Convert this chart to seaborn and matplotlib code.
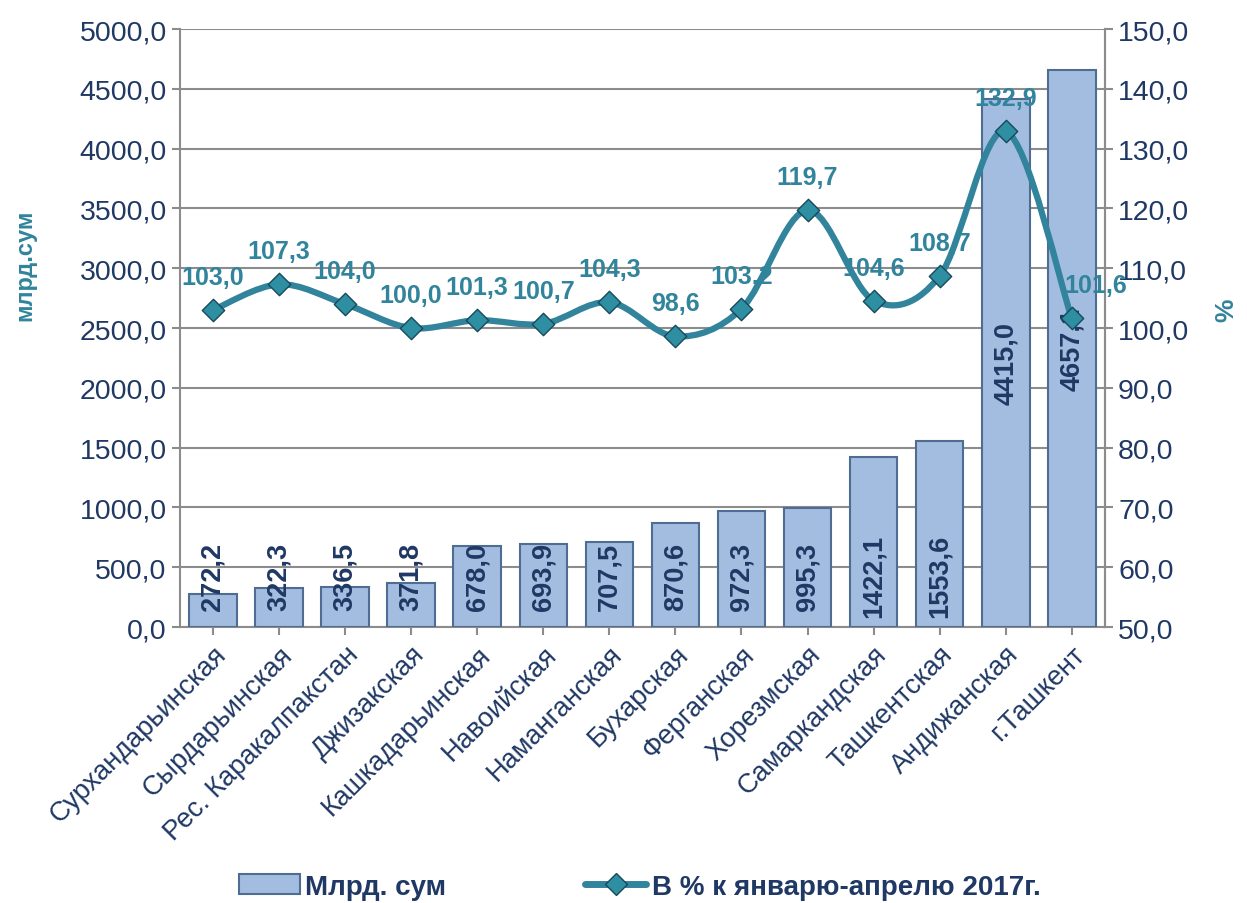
import matplotlib
matplotlib.use("Agg")
import matplotlib.pyplot as plt
import seaborn as sns
import pandas as pd
import numpy as np
from matplotlib.path import Path
from matplotlib.patches import PathPatch
from matplotlib.lines import Line2D
from matplotlib.patches import Patch
from matplotlib import font_manager

categories = ["Сурхандарьинская", "Сырдарьинская", "Рес. Каракалпакстан", "Джизакская",
              "Кашкадарьинская", "Навоийская", "Наманганская", "Бухарская", "Ферганская",
              "Хорезмская", "Самаркандская", "Ташкентская", "Андижанская", "г.Ташкент"]
volume = [272.2, 322.3, 336.5, 371.8, 678.0, 693.9, 707.5, 870.6, 972.3, 995.3, 1422.1, 1553.6, 4415.0, 4657.1]
percent = [103.0, 107.3, 104.0, 100.0, 101.3, 100.7, 104.3, 98.6, 103.2, 119.7, 104.6, 108.7, 132.9, 101.6]
left_ticks = [0, 500, 1000, 1500, 2000, 2500, 3000, 3500, 4000, 4500, 5000]
right_ticks = [50, 60, 70, 80, 90, 100, 110, 120, 130, 140, 150]
bar_legend = "Млрд. сум"
line_legend = "В % к январю-апрелю 2017г."
left_label = "млрд.сум"
right_label = "%"

sns.set_theme(style="white")
plt.rcParams['font.family'] = ['Liberation Sans', 'DejaVu Sans']
names = {f.name for f in font_manager.fontManager.ttflist}
narrow = 'Liberation Sans Narrow' if 'Liberation Sans Narrow' in names else 'Liberation Sans'

NAVY = '#1F3864'
TEAL = '#31849B'
GRID = '#8C8C8C'

def fmt(v):
    return f"{v:.1f}".replace('.', ',')

fig = plt.figure(figsize=(12.47, 9.04), dpi=100)
ax = fig.add_axes([0.1443, 0.3053, 0.7417, 0.6615])

df = pd.DataFrame({"cat": categories, "vol": volume})
sns.barplot(data=df, x="cat", y="vol", ax=ax, color='#A3BDE0', width=0.72,
            edgecolor='#4F6C93', linewidth=1.5, saturation=1, zorder=3)
ax.set_ylim(0, 5000)
ax.set_yticks(left_ticks)
ax.set_yticklabels([fmt(t) for t in left_ticks], color=NAVY, fontsize=20.5)
ax.yaxis.grid(True, color=GRID, linewidth=1.5, zorder=0)
ax.set_axisbelow(True)
ax.set_xlim(-0.5, len(categories) - 0.5)
ax.set_xlabel("")
ax.set_ylabel(left_label, color=TEAL, fontsize=17, fontweight='bold', family=narrow)
ax.yaxis.set_label_coords(-0.155, 0.607)
ax.set_xticks(range(len(categories)))
ax.set_xticklabels(categories, rotation=45, ha='right', rotation_mode='anchor', color=NAVY, fontsize=19.5)
ax.tick_params(axis='x', length=6, color=GRID, width=1.5, pad=4, bottom=True)
ax.tick_params(axis='y', length=6, color=GRID, width=1.5, left=True)
ax.spines['top'].set_visible(False)
for s in ['left', 'bottom', 'right']:
    ax.spines[s].set_color(GRID)
    ax.spines[s].set_linewidth(1.5)

for i, v in enumerate(volume):
    yy = v / 2 if v > 3000 else 430
    ax.text(i, yy, fmt(v), rotation=90, ha='center', va='center', color=NAVY,
            fontsize=19.5, fontweight='bold', zorder=5)

ax2 = ax.twinx()
ax2.set_ylim(50, 150)
ax2.set_yticks(right_ticks)
ax2.set_yticklabels([fmt(t) for t in right_ticks], color=NAVY, fontsize=20.5)
ax2.tick_params(axis='y', length=6, color=GRID, width=1.5, right=True)
ax2.grid(False)
for s in ['left', 'top', 'bottom']:
    ax2.spines[s].set_visible(False)
ax2.spines['right'].set_color(GRID)
ax2.spines['right'].set_linewidth(1.5)
ax2.set_ylabel(right_label, color=TEAL, fontsize=19, fontweight='bold')
ax2.yaxis.set_label_coords(1.118, 0.532)

# smooth curve (Catmull-Rom as cubic Bezier) through the data points
x = np.arange(len(percent), dtype=float)
y = np.array(percent)
pts = np.column_stack([x, y])
verts = [tuple(pts[0])]
codes = [Path.MOVETO]
n = len(pts)
for i in range(n - 1):
    p0 = pts[i - 1] if i > 0 else pts[i]
    p1 = pts[i]
    p2 = pts[i + 1]
    p3 = pts[i + 2] if i + 2 < n else pts[i + 1]
    c1 = p1 + (p2 - p0) / 6
    c2 = p2 - (p3 - p1) / 6
    verts += [tuple(c1), tuple(c2), tuple(p2)]
    codes += [Path.CURVE4] * 3
ax2.add_patch(PathPatch(Path(verts, codes), facecolor='none', edgecolor=TEAL, linewidth=4.5, zorder=4,
                        capstyle='round', joinstyle='round'))

ldf = pd.DataFrame({"x": x, "p": percent})
sns.scatterplot(data=ldf, x="x", y="p", ax=ax2, marker='D', s=130, color='#2E8FA3',
                edgecolor='#17495A', linewidth=1, zorder=6)
ax2.set_xlabel("")
ax2.set_xlim(-0.5, len(categories) - 0.5)

for i, v in enumerate(percent):
    dx = 24 if i == len(percent) - 1 else 0
    dy = 33
    ax2.annotate(fmt(v), (i, v), xytext=(dx, dy), textcoords='offset pixels',
                 ha='center', va='center', color=TEAL, fontsize=18, fontweight='bold', zorder=7)

handles = [Patch(facecolor='#A3BDE0', edgecolor='#4F6C93', linewidth=1.5),
           Line2D([0], [0], color=TEAL, linewidth=5, marker='D', markersize=11,
                  markerfacecolor='#2E8FA3', markeredgecolor='#17495A')]
leg = fig.legend(handles, [bar_legend, line_legend], loc='center', bbox_to_anchor=(0.513, 0.018),
                 ncol=2, frameon=False, columnspacing=5, handlelength=2.2, handletextpad=0.2,
                 prop={'family': narrow, 'weight': 'bold', 'size': 20})
for t in leg.get_texts():
    t.set_color(NAVY)

fig.savefig("out.png", dpi=100)
